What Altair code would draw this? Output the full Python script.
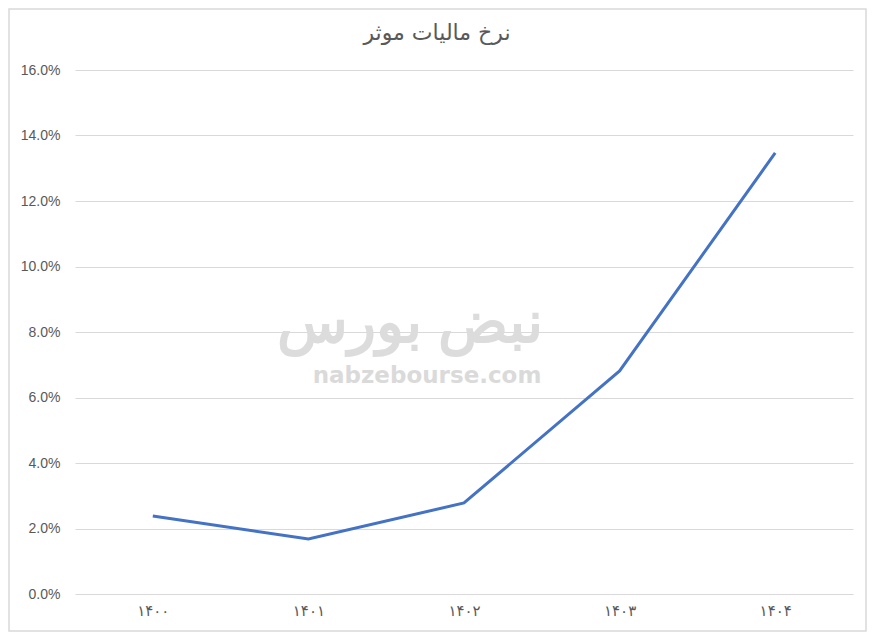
import altair as alt
import pandas as pd

years = ["۱۴۰۰", "۱۴۰۱", "۱۴۰۲", "۱۴۰۳", "۱۴۰۴"]
rates = [0.0238, 0.0168, 0.0278, 0.0681, 0.1347]
title_text = "نرخ مالیات موثر"
y_ticks = [0, 0.02, 0.04, 0.06, 0.08, 0.10, 0.12, 0.14, 0.16]

df = pd.DataFrame({"year": years, "rate": rates})

W, H = 778, 524
PL, PT, PR, PB = 67, 62, 14, 38
GRAY = "#595959"

x_enc = alt.X("year:N", sort=years, title=None,
              scale=alt.Scale(paddingInner=0, paddingOuter=0.5),
              axis=alt.Axis(labelAngle=0, labelColor=GRAY, labelFontSize=15,
                            labelFont="DejaVu Sans", labelPadding=9,
                            domain=False, ticks=False, grid=False))
y_enc = alt.Y("rate:Q", title=None,
              scale=alt.Scale(domain=[0, 0.16], nice=False),
              axis=alt.Axis(values=y_ticks, format=".1%", labelColor=GRAY,
                            labelFontSize=14, labelFont="Liberation Sans",
                            labelPadding=15, domain=False, ticks=False,
                            gridColor="#d9d9d9", gridWidth=1))

# outer chart border (decorative frame)
frame = alt.Chart(pd.DataFrame({"k": [0]})).mark_rect(
    filled=False, color="#d9d9d9", strokeWidth=1.5, clip=False
).encode(
    x=alt.value(-PL + 1), x2=alt.value(W + PR - 1),
    y=alt.value(-PT + 1), y2=alt.value(H + PB - 1)
)

title_mark = alt.Chart(pd.DataFrame({"t": [title_text]})).mark_text(
    font="DejaVu Sans", fontSize=22, color=GRAY, align="center", baseline="middle"
).encode(x=alt.value(362), y=alt.value(-37), text="t:N")

watermark_fa = alt.Chart(pd.DataFrame({"t": ["نبض بورس"]})).mark_text(
    font="Noto Sans", fontSize=58, fontWeight="bold", color="#dcdcdc", align="center", baseline="middle"
).encode(x=alt.value(335), y=alt.value(255), text="t:N")

watermark_en = alt.Chart(pd.DataFrame({"t": ["nabzebourse.com"]})).mark_text(
    font="DejaVu Sans", fontSize=23, fontWeight="bold", color="#dadada", align="center", baseline="middle"
).encode(x=alt.value(352), y=alt.value(306), text="t:N")

line = alt.Chart(df).mark_line(color="#4472C4", strokeWidth=3).encode(x=x_enc, y=y_enc)

chart = alt.layer(watermark_fa, watermark_en, line, title_mark, frame).properties(
    width=W, height=H,
    autosize=alt.AutoSizeParams(type="none"),
    padding={"left": PL, "top": PT, "right": PR, "bottom": PB},
).configure_view(stroke=None)

chart.save("out.html", embed_options={"renderer": "svg", "actions": False})
